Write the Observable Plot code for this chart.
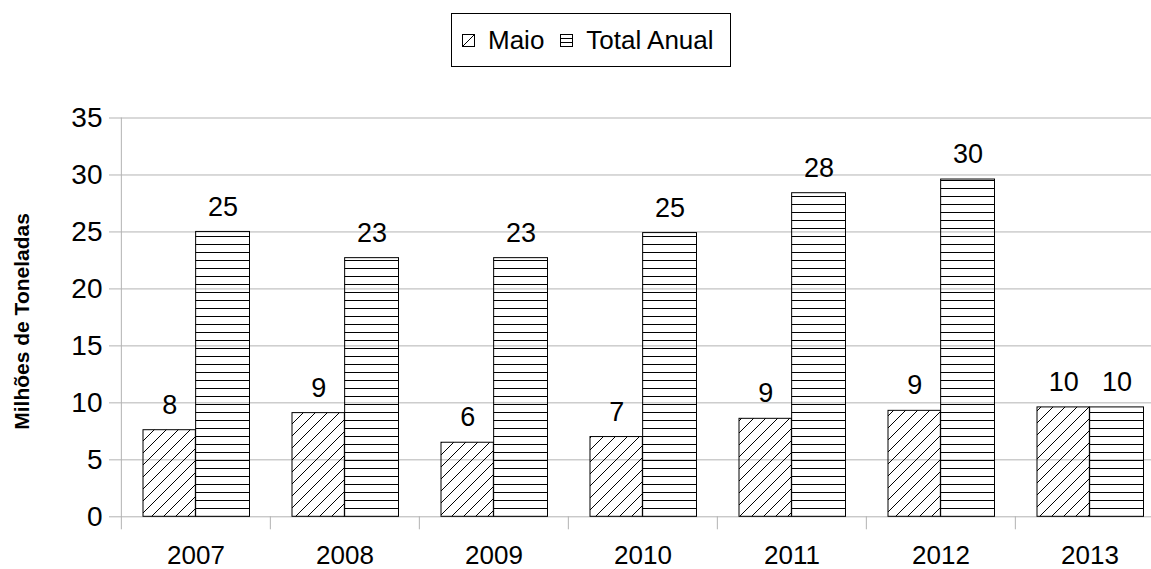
<!DOCTYPE html>
<html><head><meta charset="utf-8">
<script src="https://cdn.jsdelivr.net/npm/d3@7"></script>
<script src="https://cdn.jsdelivr.net/npm/@observablehq/plot@0.6"></script>
<style>
body{margin:0;background:#fff;font-family:"Liberation Sans",Arial,sans-serif;}
#wrap{position:relative;width:1151px;height:569px;overflow:hidden;background:#fff;}
#legend{position:absolute;left:451px;top:13px;width:280px;height:54px;box-sizing:border-box;border:1px solid #000;display:flex;align-items:center;padding-left:10px;font-size:26px;color:#000;white-space:nowrap;}
#legend .item{display:flex;align-items:center;}
#legend .lab{margin-left:13px;margin-right:16px;}
#chart{position:absolute;left:0;top:80px;}
</style></head><body>
<div id="wrap"><div id="legend"></div><div id="chart"></div></div>
<script>
const years = ["2007", "2008", "2009", "2010", "2011", "2012", "2013"];
const maio = [7.6, 9.1, 6.5, 7.0, 8.6, 9.3, 9.6];
const totalAnual = [25.0, 22.7, 22.7, 24.9, 28.4, 29.6, 9.6];
const maioLabels = ["8", "9", "6", "7", "9", "9", "10"];
const totalLabels = ["25", "23", "23", "25", "28", "30", "10"];
const seriesNames = ["Maio", "Total Anual"];
const yTicks = [0, 5, 10, 15, 20, 25, 30, 35];
const yLabel = "Milhões de Toneladas";

const rows = years.map((y, i) => ({year: y, maio: maio[i], total: totalAnual[i], maioLabel: maioLabels[i], totalLabel: totalLabels[i]}));

const xRange = [120, 1165];
const bw = (xRange[1] - xRange[0]) / years.length;
const outerGap = 22, outerGapR = 20.5;
const maioOff = (outerGap - bw / 2) / 2;
const totalOff = (bw / 2 - outerGapR) / 2;
const gridColor = "#b3b3b3";
const font = '"Liberation Sans",Arial,sans-serif';

// legend
const swatches = {
  "Maio": '<svg width="13" height="13"><rect x="0.5" y="0.5" width="12" height="12" fill="#fff" stroke="#000"/><line x1="0.5" y1="12.5" x2="12.5" y2="0.5" stroke="#000"/></svg>',
  "Total Anual": '<svg width="13" height="13"><rect x="0.5" y="0.5" width="12" height="12" fill="#fff" stroke="#000"/><line x1="0.5" y1="4.5" x2="12.5" y2="4.5" stroke="#000"/><line x1="0.5" y1="8.5" x2="12.5" y2="8.5" stroke="#000"/></svg>'
};
const legend = document.getElementById("legend");
seriesNames.forEach(n => {
  const it = document.createElement("div");
  it.className = "item";
  it.innerHTML = swatches[n] + '<span class="lab"></span>';
  it.querySelector(".lab").textContent = n;
  legend.appendChild(it);
});

const defs = () => {
  const d = d3.create("svg:defs");
  const p1 = d.append("pattern").attr("id", "hatch-maio").attr("patternUnits", "userSpaceOnUse")
    .attr("width", 12).attr("height", 12);
  p1.append("path").attr("d", "M-1,1 L1,-1 M0,12 L12,0 M11,13 L13,11").attr("stroke", "#000").attr("stroke-width", 1).attr("fill", "none");
  const p2 = d.append("pattern").attr("id", "hatch-total").attr("patternUnits", "userSpaceOnUse")
    .attr("width", 10).attr("height", 8);
  p2.append("line").attr("x1", 0).attr("x2", 10).attr("y1", 4.5).attr("y2", 4.5).attr("stroke", "#000").attr("stroke-width", 1);
  return d.node();
};

const chart = Plot.plot({
  width: 1151,
  height: 489,
  marginLeft: 120,
  marginRight: 0,
  marginTop: 37.5,
  marginBottom: 52.7,
  style: {fontFamily: font, fontSize: "27px", color: "#000", background: "transparent", overflow: "visible"},
  x: {type: "band", domain: years, range: xRange, padding: 0, label: null},
  y: {domain: [0, 35], label: null},
  marks: [
    defs,
    Plot.ruleY(yTicks, {stroke: gridColor, strokeWidth: 1, insetLeft: -11}),
    Plot.ruleX([years[0]], {x: d => d, dx: -bw / 2, y1: 35, y2: 0, insetBottom: -13, stroke: gridColor}),
    Plot.ruleX(years.slice(1), {x: d => d, dx: -bw / 2, y1: 0, y2: 0, insetBottom: -13, stroke: gridColor}),
    Plot.barY(rows, {x: "year", y: "maio", fill: "url(#hatch-maio)", stroke: "#000", strokeWidth: 1, insetLeft: outerGap, insetRight: bw / 2}),
    Plot.barY(rows, {x: "year", y: "total", fill: "url(#hatch-total)", stroke: "#000", strokeWidth: 1, insetLeft: bw / 2, insetRight: outerGapR}),
    Plot.text(rows, {x: "year", y: "maio", text: "maioLabel", dx: maioOff, dy: -25, fontSize: 27, fill: "#000"}),
    Plot.text(rows, {x: "year", y: "total", text: "totalLabel", dx: totalOff, dy: -25, fontSize: 27, fill: "#000"}),
    Plot.axisY({ticks: yTicks, tickSize: 0, tickPadding: 18, label: null, fontSize: 28}),
    Plot.axisX({tickSize: 0, tickPadding: 29, label: null, fontSize: 26}),
    Plot.text([yLabel], {frameAnchor: "left", textAnchor: "middle", lineAnchor: "middle", dx: -98, dy: 4, rotate: -90, fontWeight: "bold", fontSize: 21, fill: "#000"})
  ]
});
document.getElementById("chart").appendChild(chart);
</script>
</body></html>
